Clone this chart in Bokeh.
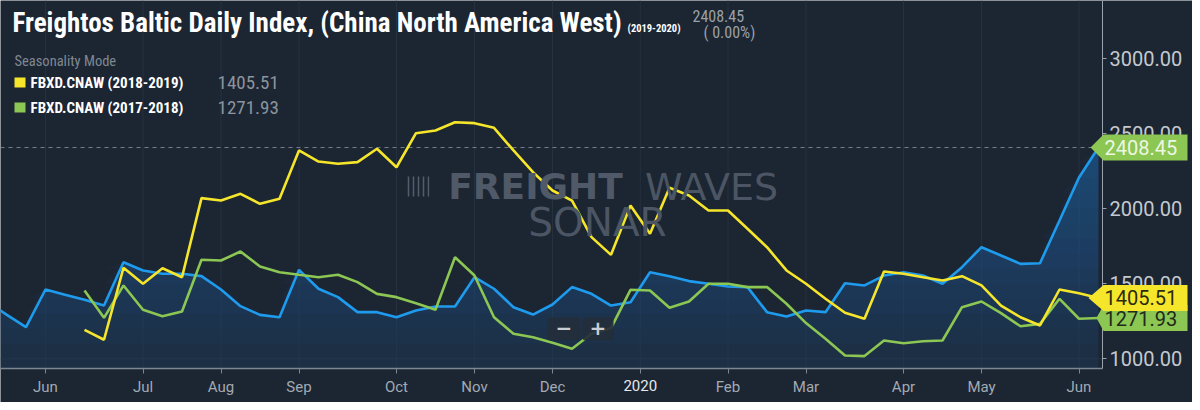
from bokeh.plotting import figure
from bokeh.models import (Range1d, FixedTicker, PrintfTickFormatter, Label,
                          BoxAnnotation, PolyAnnotation)
from bokeh.embed import file_html
from bokeh.resources import INLINE

# ---------------- data ----------------
# weekly index (0 = first week of Jun 2019)
blue_start = -3
blue = [1382, 1295, 1211, 1462, 1427, 1393, 1355, 1644, 1589, 1567, 1567, 1551,
        1462, 1351, 1293, 1277, 1593, 1467, 1411, 1311, 1311, 1277, 1322, 1349,
        1349, 1544, 1467, 1344, 1295, 1362, 1478, 1433, 1355, 1377, 1577, 1551,
        1518, 1500, 1482, 1478, 1311, 1282, 1322, 1311, 1504, 1489, 1555, 1577,
        1555, 1500, 1611, 1744, 1689, 1633, 1637, 1922, 2209, 2408.45]
yellow_start = 2
yellow = [1193, 1127, 1607, 1500, 1604, 1544, 2071, 2055, 2100, 2033, 2067, 2389,
          2315, 2300, 2311, 2400, 2277, 2504, 2522, 2577, 2571, 2540, 2389, 2244,
          2122, 2055, 1811, 1693, 2022, 1833, 2140, 2089, 1989, 1989, 1867, 1744,
          1589, 1500, 1400, 1307, 1267, 1582, 1567, 1544, 1522, 1551, 1489, 1355,
          1277, 1222, 1462, 1437, 1405.51]
green_start = 2
green = [1455, 1273, 1489, 1327, 1284, 1315, 1660, 1655, 1715, 1615, 1577, 1560,
         1544, 1560, 1511, 1433, 1411, 1371, 1327, 1677, 1555, 1277, 1167, 1144,
         1107, 1067, 1167, 1205, 1460, 1455, 1340, 1382, 1500, 1500, 1478, 1478,
         1367, 1238, 1133, 1022, 1018, 1122, 1104, 1117, 1122, 1344, 1382, 1304,
         1217, 1233, 1400, 1267, 1271.93]

month_ticks = [0, 5, 9, 13, 18, 22, 26, 30.5, 35, 39, 44, 48, 53]
month_labels = ["Jun", "Jul", "Aug", "Sep", "Oct", "Nov", "Dec", "2020",
                "Feb", "Mar", "Apr", "May", "Jun"]
y_ticks = [1000, 1500, 2000, 2500, 3000]

title_text = "Freightos Baltic Daily Index, (China North America West)"
title_years = "(2019-2020)"
series_names = ["FBXD.CNAW (2018-2019)", "FBXD.CNAW (2017-2018)"]

# ---------------- style / layout ----------------
BG = "#1c2532"
BLUE = "#1f9bee"
YELLOW = "#f6e62b"
GREEN = "#8cc653"
COND = "Roboto Condensed, Liberation Sans Narrow, DejaVu Sans Condensed, sans-serif"

W, H = 1192, 402          # whole figure = plotting frame (axes drawn at fixed locations)
PX_WEEK = 19.5            # pixels per week
X0_PX = 45                # pixel of week 0
AXIS_X_PX = 1102          # pixel of the value axis
AXIS_Y_PX = 368           # pixel of the time axis
PX_PER_UNIT = 0.15
Y1000_PX = 358.3

def px_to_week(px):
    return (px - X0_PX) / PX_WEEK

def py_to_val(py):
    return 1000 + (Y1000_PX - py) / PX_PER_UNIT

x_start, x_end = px_to_week(0), px_to_week(W)
y_bottom, y_top = py_to_val(H), py_to_val(0)
axis_week = px_to_week(AXIS_X_PX)
axis_val = py_to_val(AXIS_Y_PX)

wb = [blue_start + k for k in range(len(blue))]
wy = [yellow_start + k for k in range(len(yellow))]
wg = [green_start + k for k in range(len(green))]

p = figure(width=W, height=H,
           x_range=Range1d(x_start, x_end), y_range=Range1d(y_bottom, y_top),
           y_axis_location="right", output_backend="svg", toolbar_location=None,
           background_fill_color=BG, border_fill_color=BG, outline_line_color=None,
           min_border_left=0, min_border_top=0, min_border_right=0, min_border_bottom=0,
           title=None)

p.xgrid.visible = False
p.ygrid.visible = False

# grid lines (month verticals + base line)
p.segment(x0=month_ticks, y0=axis_val, x1=month_ticks, y1=y_top,
          line_color="#253040", line_width=1)
p.segment(x0=[x_start], y0=[y_ticks[0]], x1=[axis_week], y1=[y_ticks[0]],
          line_color="#2a3543", line_width=1)

# blue area with vertical gradient
p.varea(x=wb, y1=axis_val, y2=blue, fill_color="#1d3856", fill_alpha=0.55)
for t in range(1100, 2450, 100):
    p.varea(x=wb, y1=t, y2=[max(v, t) for v in blue], fill_color="#2a6ab0", fill_alpha=0.045)

# dashed last-value line
p.segment(x0=[x_start], y0=[blue[-1]], x1=[axis_week], y1=[blue[-1]],
          line_color="#76818e", line_dash="4 4", line_width=1)

# lines
p.line(wb, blue, line_color=BLUE, line_width=2.6)
p.line(wg, green, line_color=GREEN, line_width=2.6)
p.line(wy, yellow, line_color=YELLOW, line_width=2.6)

# axes
xa = p.xaxis[0]
xa.fixed_location = axis_val
xa.bounds = (x_start, axis_week)
xa.ticker = FixedTicker(ticks=month_ticks)
xa.major_label_overrides = {t: (l if l != "2020" else "") for t, l in zip(month_ticks, month_labels)}
xa.axis_line_color = "#7d8792"
xa.axis_line_width = 1.5
xa.major_tick_line_color = "#7d8792"
xa.major_tick_out = 5
xa.major_tick_in = 0
xa.minor_tick_line_color = None
xa.major_label_standoff = 4
xa.major_label_text_color = "#a2aab3"
xa.major_label_text_font = "Roboto"
xa.major_label_text_font_size = "15px"

ya = p.yaxis[0]
ya.fixed_location = axis_week
ya.bounds = (axis_val, y_top)
ya.ticker = FixedTicker(ticks=y_ticks)
ya.formatter = PrintfTickFormatter(format="%.2f")
ya.axis_line_color = "#9aa3ad"
ya.major_tick_line_color = "#9aa3ad"
ya.major_tick_out = 4
ya.major_tick_in = 0
ya.minor_tick_line_color = None
ya.major_label_standoff = 3
ya.major_label_text_color = "#c4c9cf"
ya.major_label_text_font = "Roboto"
ya.major_label_text_font_size = "20px"

def sy(ref_y):
    return H - ref_y

# "2020" label, brighter
p.add_layout(Label(x=month_ticks[7], y=sy(385), y_units="screen", text=month_labels[7],
                   text_align="center", text_baseline="middle", text_color="#e6e9ed",
                   text_font="Roboto", text_font_size="15px"))

def lab(x, y, text, size, color, bold=False, font=COND, align="left", alpha=1.0):
    p.add_layout(Label(x=x, y=sy(y), x_units="screen", y_units="screen", text=text,
                       text_align=align, text_baseline="middle", text_color=color,
                       text_alpha=alpha, text_font=font, text_font_size=size,
                       text_font_style="bold" if bold else "normal"))

# watermark
p.add_layout(BoxAnnotation(left=405, right=429, bottom=sy(196), top=sy(176),
                           left_units="screen", right_units="screen",
                           bottom_units="screen", top_units="screen",
                           fill_alpha=0, line_color=None, hatch_pattern="vertical_line",
                           hatch_color="#535d6a", hatch_scale=5, hatch_weight=1.5))
lab(535, 186, "FREIGHT", "36px", "#4f5967", bold=True, font="DejaVu Sans", align="center")
lab(711, 186, "WAVES", "38px", "#4b5563", font="DejaVu Sans", align="center")
lab(597, 222, "SONAR", "39px", "#4b5563", font="DejaVu Sans", align="center")

# header texts
lab(12, 22, title_text, "27px", "#ffffff", bold=True)
lab(627, 28, title_years, "10.5px", "#ffffff", bold=True)
lab(692, 15, f"{blue[-1]:.2f}", "16px", "#9aa1a9")
lab(703, 32, "( 0.00%)", "16px", "#9aa1a9")
lab(14, 61, "Seasonality Mode", "14.5px", "#7f8892")

for (yy, col, name, val) in [(82, YELLOW, series_names[0], yellow[-1]),
                             (107, GREEN, series_names[1], green[-1])]:
    p.add_layout(BoxAnnotation(left=14, right=25, bottom=sy(yy + 5), top=sy(yy - 5),
                               left_units="screen", right_units="screen",
                               bottom_units="screen", top_units="screen",
                               fill_color=col, fill_alpha=1, line_color=None))
    lab(30, yy, name, "15px", "#ffffff", bold=True)
    lab(217, yy, f"{val:.2f}", "19px", "#8c949d")

# zoom buttons
for (l, r, txt) in [(547, 580, "\u2212"), (582, 613, "+")]:
    p.add_layout(BoxAnnotation(left=l, right=r, bottom=sy(340), top=sy(317),
                               left_units="screen", right_units="screen",
                               bottom_units="screen", top_units="screen",
                               fill_color="#242e3b", fill_alpha=0.92, line_color=None,
                               border_radius=3))
    lab((l + r) / 2, 327, txt, "20px", "#c9ced4", bold=True, font="DejaVu Sans", align="center")

# price tags on the value axis
half = 13 / PX_PER_UNIT
def tag(val, tip, fill, tcol):
    p.add_layout(PolyAnnotation(xs=[tip, 1103, 1187, 1187, 1103],
                                ys=[val, val + half, val + half, val - half, val - half],
                                xs_units="screen", ys_units="data",
                                fill_color=fill, fill_alpha=1, line_color=None))
    p.add_layout(Label(x=1104, y=val, x_units="screen", y_units="data", text=f"{val:.2f}",
                       text_align="left", text_baseline="middle", text_color=tcol,
                       text_font="Roboto", text_font_size="20px"))

tag(blue[-1], 1090, GREEN, "#eef7e4")
tag(green[-1], 1096, GREEN, "#1f2a1a")
tag(yellow[-1], 1088, YELLOW, "#2a2a10")

open("out.html", "w").write(file_html(p, INLINE))
